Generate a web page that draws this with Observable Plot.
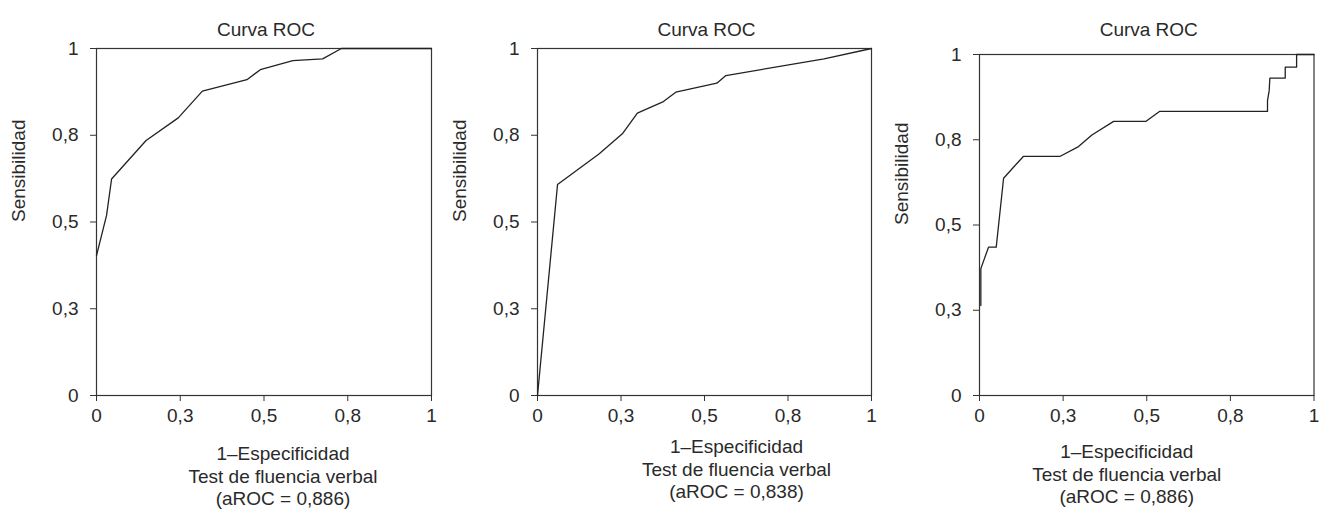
<!DOCTYPE html>
<html><head><meta charset="utf-8">
<script src="https://cdn.jsdelivr.net/npm/d3@7"></script>
<script src="https://cdn.jsdelivr.net/npm/@observablehq/plot@0.6"></script>
<style>
body{margin:0;background:#fff;}
#wrap{position:relative;width:1328px;height:515px;overflow:hidden;background:#fff;}
.panel{position:absolute;top:0;}
</style></head><body><div id="wrap"></div>
<script>
// ---- data ----
const tickValues = [0, 0.25, 0.5, 0.75, 1];
const tickLabels = ["0", "0,3", "0,5", "0,8", "1"];
const titles = ["Curva ROC", "Curva ROC", "Curva ROC"];
const yLabel = "Sensibilidad";
const xLabels = [
  "1–Especificidad\nTest de fluencia verbal\n(aROC = 0,886)",
  "1–Especificidad\nTest de fluencia verbal\n(aROC = 0,838)",
  "1–Especificidad\nTest de fluencia verbal\n(aROC = 0,886)"
];
const roc1X = [0, 0.030, 0.045, 0.148, 0.244, 0.316, 0.449, 0.489, 0.586, 0.675, 0.731, 1];
const roc1Y = [0.403, 0.519, 0.624, 0.735, 0.800, 0.877, 0.910, 0.939, 0.965, 0.970, 1, 1];
const roc2X = [0, 0.060, 0.184, 0.254, 0.299, 0.377, 0.414, 0.537, 0.564, 0.858, 1];
const roc2Y = [0, 0.608, 0.696, 0.754, 0.814, 0.847, 0.874, 0.900, 0.922, 0.970, 1];
const roc3X = [0.004, 0.004, 0.027, 0.050, 0.072, 0.131, 0.240, 0.296, 0.336, 0.401, 0.498, 0.538, 0.861, 0.861, 0.866, 0.868, 0.914, 0.914, 0.948, 0.948, 1];
const roc3Y = [0.264, 0.372, 0.435, 0.435, 0.637, 0.701, 0.701, 0.730, 0.764, 0.804, 0.804, 0.833, 0.833, 0.865, 0.894, 0.931, 0.931, 0.963, 0.963, 1, 1];

// ---- layout ----
const panels = [
  {xs: roc1X, ys: roc1Y, left: 0,   width: 440, ml: 96, mr: 9,    mt: 48, labDx: 19,  labDy: 49},
  {xs: roc2X, ys: roc2Y, left: 440, width: 440, ml: 97, mr: 9,    mt: 48, labDx: 32,  labDy: 42},
  {xs: roc3X, ys: roc3Y, left: 880, width: 448, ml: 99, mr: 14.5, mt: 54, labDx: -20, labDy: 47}
];
const H = 515, bottom = 395;
const wrap = document.getElementById("wrap");
const fmt = d => tickLabels[tickValues.indexOf(d)];

panels.forEach((p, i) => {
  const data = p.xs.map((x, j) => ({x, y: p.ys[j]}));
  const chart = Plot.plot({
    width: p.width, height: H,
    marginLeft: p.ml, marginRight: p.mr, marginTop: p.mt, marginBottom: H - bottom,
    style: {fontFamily: "'Liberation Sans', Arial, sans-serif", fontSize: "19px", color: "#2a2a2a", background: "#fff"},
    x: {domain: [0, 1]},
    y: {domain: [0, 1]},
    marks: [
      Plot.axisX({ticks: tickValues, tickFormat: fmt, tickSize: 6, tickPadding: 7, label: null, stroke: "#333"}),
      Plot.axisY({ticks: tickValues, tickFormat: fmt, tickSize: 6, tickPadding: 12, label: null, stroke: "#333"}),
      Plot.frame({stroke: "#333", strokeWidth: 1.2}),
      Plot.line(data, {x: "x", y: "y", stroke: "#222", strokeWidth: 1.3}),
      Plot.text([titles[i]], {text: d => d, frameAnchor: "top", dy: 22 - p.mt, dx: 2, fill: "#2a2a2a"}),
      Plot.text([yLabel], {text: d => d, frameAnchor: "left", dx: -78, rotate: -90, fill: "#2a2a2a"}),
      Plot.text([xLabels[i]], {text: d => d, frameAnchor: "bottom", lineAnchor: "top", dy: p.labDy, dx: p.labDx, lineHeight: 1.17, fill: "#2a2a2a"})
    ]
  });
  chart.classList.add("panel");
  chart.style.left = p.left + "px";
  wrap.appendChild(chart);
});
</script></body></html>
